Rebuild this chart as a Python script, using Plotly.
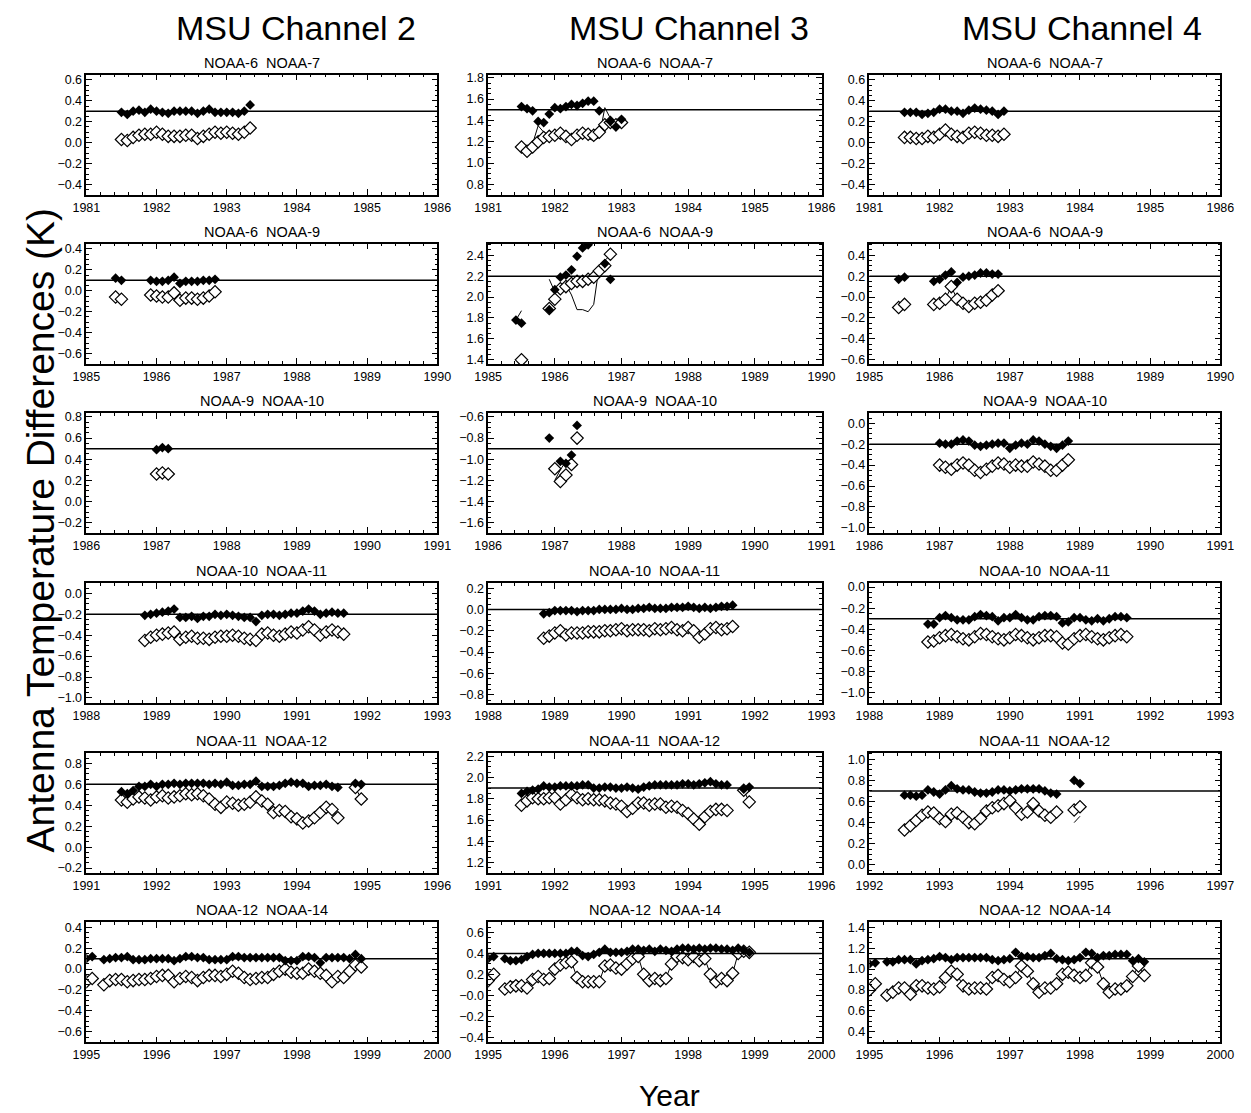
import plotly.graph_objects as go

# ---------------------------------------------------------------- data
column_titles = ["MSU Channel 2", "MSU Channel 3", "MSU Channel 4"]
pair_titles = ["NOAA-6  NOAA-7", "NOAA-6  NOAA-9", "NOAA-9  NOAA-10",
               "NOAA-10  NOAA-11", "NOAA-11  NOAA-12", "NOAA-12  NOAA-14"]

axis_start_years = [[1981, 1981, 1981], [1985, 1985, 1985], [1986, 1986, 1986],
                    [1988, 1988, 1988], [1991, 1991, 1992], [1995, 1995, 1995]]
ref_levels = [[0.3, 1.5, 0.3], [0.1, 2.2, 0.2], [0.5, -0.9, -0.2],
              [-0.2, 0.0, -0.3], [0.6, 1.9, 0.7], [0.1, 0.4, 1.1]]
y_ranges = [[[-0.5, 0.65], [0.7, 1.83], [-0.5, 0.65]],
            [[-0.7, 0.45], [1.36, 2.51], [-0.64, 0.51]],
            [[-0.3, 0.84], [-1.7, -0.56], [-1.05, 0.1]],
            [[-1.05, 0.1], [-0.88, 0.25], [-1.1, 0.04]],
            [[-0.25, 0.9], [1.1, 2.23], [-0.08, 1.06]],
            [[-0.7, 0.45], [-0.45, 0.7], [0.3, 1.45]]]
M = "\u2212"
ytick_labels = [
    [["0.6", "0.4", "0.2", "0.0", M+"0.2", M+"0.4"], ["1.8", "1.6", "1.4", "1.2", "1.0", "0.8"],
     ["0.6", "0.4", "0.2", "0.0", M+"0.2", M+"0.4"]],
    [["0.4", "0.2", "0.0", M+"0.2", M+"0.4", M+"0.6"], ["2.4", "2.2", "2.0", "1.8", "1.6", "1.4"],
     ["0.4", "0.2", M+"0.0", M+"0.2", M+"0.4", M+"0.6"]],
    [["0.8", "0.6", "0.4", "0.2", "0.0", M+"0.2"], [M+"0.6", M+"0.8", M+"1.0", M+"1.2", M+"1.4", M+"1.6"],
     ["0.0", M+"0.2", M+"0.4", M+"0.6", M+"0.8", M+"1.0"]],
    [["0.0", M+"0.2", M+"0.4", M+"0.6", M+"0.8", M+"1.0"], ["0.2", "0.0", M+"0.2", M+"0.4", M+"0.6", M+"0.8"],
     ["0.0", M+"0.2", M+"0.4", M+"0.6", M+"0.8", M+"1.0"]],
    [["0.8", "0.6", "0.4", "0.2", "0.0", M+"0.2"], ["2.2", "2.0", "1.8", "1.6", "1.4", "1.2"],
     ["1.0", "0.8", "0.6", "0.4", "0.2", "0.0"]],
    [["0.4", "0.2", "0.0", M+"0.2", M+"0.4", M+"0.6"], ["0.6", "0.4", "0.2", M+"0.0", M+"0.2", M+"0.4"],
     ["1.4", "1.2", "1.0", "0.8", "0.6", "0.4"]],
]

# decimal year of the first monthly sample of each panel
first_month = [[1981.5, 1981.5, 1981.5],
               [1985.4167, 1985.4167, 1985.4167],
               [1987.0, 1986.9167, 1987.0],
               [1988.8333, 1988.8333, 1988.8333],
               [1991.5, 1991.5, 1992.5],
               [1995.0, 1995.0, 1995.0]]

# ---- row 1 : NOAA-6 / NOAA-7
fill_r1c1 = [0.29, 0.27, 0.30, 0.31, 0.29, 0.32, 0.30, 0.29, 0.28, 0.30, 0.30, 0.30,
             0.30, 0.28, 0.30, 0.32, 0.29, 0.29, 0.29, 0.29, 0.28, 0.30, 0.36]
open_r1c1 = [0.03, 0.02, 0.05, 0.07, 0.08, 0.08, 0.10, 0.08, 0.06, 0.06, 0.06, 0.07,
             0.07, 0.04, 0.06, 0.08, 0.10, 0.09, 0.10, 0.09, 0.08, 0.10, 0.14]
line_r1c1 = open_r1c1

fill_r1c2 = [1.53, 1.51, 1.49, 1.39, 1.38, 1.46, 1.52, 1.51, 1.53, 1.55, 1.54, 1.56,
             1.58, 1.58, 1.49, None, 1.39, 1.34, 1.41]
open_r1c2 = [1.15, 1.11, 1.15, 1.20, 1.24, 1.25, 1.26, 1.28, 1.25, 1.22, 1.26, 1.28,
             1.27, 1.26, 1.29, 1.36, 1.38, 1.36, 1.38]
line_r1c2 = [1.14, 1.10, 1.18, 1.35, 1.29, 1.26, 1.25, 1.24, 1.21, 1.20, 1.24, 1.26,
             1.23, 1.21, 1.24, 1.52, 1.42, 1.34, 1.38]

fill_r1c3 = [0.29, 0.29, 0.29, 0.27, 0.28, 0.29, 0.32, 0.32, 0.30, 0.30, 0.28, 0.31,
             0.33, 0.32, 0.31, 0.30, 0.27, 0.30]
open_r1c3 = [0.05, 0.05, 0.04, 0.04, 0.06, 0.05, 0.08, 0.12, 0.08, 0.06, 0.05, 0.09,
             0.10, 0.09, 0.07, 0.07, 0.06, 0.08]
line_r1c3 = open_r1c3

# ---- row 2 : NOAA-6 / NOAA-9
fill_r2c1 = [0.12, 0.10, None, None, None, None, 0.10, 0.09, 0.09, 0.10, 0.13, 0.07,
             0.09, 0.09, 0.09, 0.10, 0.10, 0.11]
open_r2c1 = [-0.06, -0.08, None, None, None, None, -0.04, -0.05, -0.06, -0.06, -0.02,
             -0.09, -0.07, -0.07, -0.08, -0.07, -0.05, -0.01]
line_r2c1 = open_r2c1

fill_r2c2 = [1.78, 1.75, None, None, None, None, 1.88, 2.07, 2.19, 2.21, 2.26, 2.39,
             2.47, 2.50, None, None, 2.32, 2.17]
open_r2c2 = [None, 1.40, None, None, None, None, 1.89, 1.98, 2.08, 2.10, 2.13, 2.15,
             2.15, 2.17, 2.19, 2.25, 2.30, 2.41]
line_r2c2 = [1.78, 1.87, None, None, None, None, 2.17, 2.05, 2.10, 2.12, 2.02, 1.88,
             1.88, 1.86, 1.93, 2.30, 2.35, 2.40]

fill_r2c3 = [0.17, 0.19, None, None, None, None, 0.15, 0.17, 0.21, 0.24, 0.14, 0.19,
             0.20, 0.21, 0.23, 0.23, 0.22, 0.22]
open_r2c3 = [-0.10, -0.07, None, None, None, None, -0.07, -0.06, -0.02, 0.10, -0.02,
             -0.06, -0.09, -0.06, -0.05, -0.03, 0.02, 0.06]
line_r2c3 = open_r2c3

# ---- row 3 : NOAA-9 / NOAA-10
fill_r3c1 = [0.49, 0.51, 0.50]
open_r3c1 = [0.26, 0.27, 0.26]
line_r3c1 = open_r3c1

fill_r3c2 = [-0.80, None, -1.02, -1.04, -0.96, -0.68]
open_r3c2 = [None, -1.09, -1.21, -1.15, -1.05, -0.80]
line_r3c2 = [None, -1.20, -1.10, -1.02, -1.00, None]

fill_r3c3 = [-0.19, -0.20, -0.20, -0.17, -0.16, -0.17, -0.21, -0.22, -0.21, -0.20, -0.19,
             -0.19, -0.24, -0.21, -0.19, -0.20, -0.16, -0.17, -0.20, -0.22, -0.24, -0.21, -0.17]
open_r3c3 = [-0.40, -0.42, -0.44, -0.40, -0.38, -0.40, -0.45, -0.47, -0.44, -0.41, -0.38,
             -0.39, -0.42, -0.40, -0.41, -0.41, -0.37, -0.39, -0.41, -0.45, -0.45, -0.40, -0.35]
line_r3c3 = open_r3c3

# ---- row 4 : NOAA-10 / NOAA-11
fill_r4c1 = [-0.21, -0.20, -0.19, -0.18, -0.17, -0.15, -0.23, -0.23, -0.22, -0.24,
             -0.22, -0.22, -0.20, -0.21, -0.20, -0.21, -0.22, -0.23, -0.23, -0.27,
             -0.21, -0.20, -0.20, -0.21, -0.20, -0.19, -0.19, -0.17, -0.15, -0.17,
             -0.20, -0.19, -0.18, -0.19, -0.19]
open_r4c1 = [-0.45, -0.42, -0.40, -0.39, -0.38, -0.37, -0.44, -0.42, -0.41, -0.43,
             -0.43, -0.44, -0.42, -0.41, -0.41, -0.40, -0.41, -0.43, -0.44, -0.45,
             -0.39, -0.38, -0.40, -0.41, -0.39, -0.37, -0.38, -0.35, -0.32, -0.35,
             -0.40, -0.37, -0.35, -0.37, -0.39]
line_r4c1 = open_r4c1

fill_r4c2 = [-0.04, -0.03, -0.01, -0.01, -0.01, -0.01, -0.02, -0.01, -0.01, -0.01,
             0.00, 0.00, 0.00, 0.00, 0.01, 0.00, 0.00, 0.01, 0.01, 0.02,
             0.01, 0.01, 0.01, 0.02, 0.02, 0.02, 0.03, 0.02, 0.01, 0.02,
             0.01, 0.02, 0.03, 0.03, 0.04]
open_r4c2 = [-0.27, -0.25, -0.22, -0.20, -0.24, -0.22, -0.22, -0.22, -0.21, -0.21,
             -0.21, -0.20, -0.20, -0.19, -0.18, -0.20, -0.19, -0.19, -0.19, -0.20,
             -0.18, -0.19, -0.18, -0.17, -0.19, -0.20, -0.17, -0.20, -0.26, -0.23,
             -0.18, -0.17, -0.19, -0.18, -0.16]
line_r4c2 = open_r4c2

fill_r4c3 = [-0.35, -0.35, -0.29, -0.27, -0.29, -0.31, -0.31, -0.31, -0.28, -0.26,
             -0.27, -0.28, -0.32, -0.29, -0.29, -0.26, -0.29, -0.31, -0.31, -0.28,
             -0.27, -0.27, -0.28, -0.34, -0.33, -0.29, -0.29, -0.31, -0.32, -0.30,
             -0.32, -0.30, -0.28, -0.28, -0.29]
open_r4c3 = [-0.52, -0.51, -0.48, -0.46, -0.45, -0.47, -0.49, -0.50, -0.47, -0.44,
             -0.45, -0.47, -0.49, -0.50, -0.48, -0.45, -0.46, -0.48, -0.50, -0.48,
             -0.46, -0.46, -0.47, -0.53, -0.54, -0.49, -0.46, -0.45, -0.47, -0.49,
             -0.50, -0.48, -0.46, -0.45, -0.47]
line_r4c3 = open_r4c3

# ---- row 5 : NOAA-11 / NOAA-12
fill_r5c1 = [0.53, 0.51, 0.54, 0.58, 0.58, 0.60, 0.58, 0.60, 0.60, 0.61,
             0.60, 0.61, 0.61, 0.61, 0.61, 0.60, 0.61, 0.60, 0.62, 0.59,
             0.59, 0.60, 0.60, 0.63, 0.58, 0.58, 0.58, 0.59, 0.61, 0.62,
             0.61, 0.61, 0.58, 0.59, 0.59, 0.60, 0.58, 0.57,
             None, None, 0.61, 0.60]
open_r5c1 = [0.45, 0.43, 0.46, 0.48, 0.47, 0.45, 0.48, 0.49, 0.47, 0.48, 0.49, 0.51,
             0.50, 0.51, 0.49, 0.46, 0.41, 0.38,
             0.43, 0.42, 0.40, 0.41, 0.43, 0.48,
             0.44, 0.41, 0.33, 0.35, 0.34, 0.29,
             0.27, 0.23, 0.25, 0.28, 0.33, 0.38, 0.36, 0.28,
             None, None, 0.57, 0.46]
line_r5c1 = open_r5c1

fill_r5c2 = [1.85, 1.87, 1.88, 1.89, 1.92, 1.91, 1.91, 1.92, 1.92, 1.92,
             1.92, 1.93, 1.93, 1.90, 1.90, 1.91, 1.91, 1.90, 1.90, 1.91,
             1.90, 1.89, 1.91, 1.92, 1.93, 1.93, 1.93, 1.93, 1.93, 1.94,
             1.94, 1.93, 1.94, 1.95, 1.96, 1.94, 1.93, 1.93,
             None, None, 1.89, 1.91]
open_r5c2 = [1.74, 1.78, 1.81, 1.80, 1.80, 1.81, 1.81, 1.75, 1.79, 1.84,
             1.81, 1.79, 1.80, 1.79, 1.79, 1.78, 1.76, 1.75, 1.73, 1.68,
             1.71, 1.76, 1.76, 1.74, 1.75, 1.75, 1.72, 1.73, 1.72, 1.69,
             1.66, 1.61, 1.56, 1.63, 1.68, 1.70, 1.70, 1.69,
             None, None, 1.88, 1.77]
line_r5c2 = open_r5c2

fill_r5c3 = [0.66, 0.66, 0.65, 0.66, 0.71, 0.69, 0.67, 0.71, 0.75, 0.72,
             0.71, 0.71, 0.69, 0.68, 0.68, 0.69, 0.71, 0.71, 0.70, 0.71,
             0.72, 0.72, 0.72, 0.72, 0.70, 0.68, 0.67,
             None, None, 0.80, 0.77]
open_r5c3 = [0.33, 0.37, 0.42, 0.47, 0.50, 0.49, 0.44, 0.41, 0.48, 0.49,
             0.45, 0.40, 0.39, 0.44, 0.51, 0.54, 0.56, 0.58, 0.61, 0.54,
             0.48, 0.50, 0.58, 0.51, 0.47, 0.45, 0.50,
             None, None, 0.52, 0.55]
line_r5c3 = [0.33, 0.37, 0.42, 0.47, 0.50, 0.49, 0.44, 0.41, 0.48, 0.49,
             0.45, 0.40, 0.39, 0.44, 0.51, 0.54, 0.56, 0.58, 0.61, 0.54,
             0.48, 0.50, 0.58, 0.51, 0.47, 0.45, 0.50,
             None, None, 0.40, 0.46]

# ---- row 6 : NOAA-12 / NOAA-14
fill_r6c1 = [0.10, 0.12, None,
             0.09, 0.10, 0.11, 0.11, 0.12, 0.09, 0.09, 0.09, 0.10, 0.10,
             0.10, 0.10, 0.08, 0.10, 0.12, 0.12, 0.11, 0.11, 0.09, 0.09,
             0.09, 0.09, 0.12, 0.12, 0.11, 0.11, 0.11, 0.11, 0.11, 0.11,
             0.11, 0.08, 0.08, 0.08, 0.12, 0.12, 0.11, 0.06, 0.11, 0.11,
             0.11, 0.11, 0.10, 0.14, 0.10]
open_r6c1 = [-0.12, -0.09, None,
             -0.15, -0.11, -0.10, -0.10, -0.12, -0.11, -0.10, -0.10, -0.09, -0.07,
             -0.06, -0.06, -0.12, -0.09, -0.07, -0.08, -0.11, -0.08, -0.06, -0.06,
             -0.07, -0.05, -0.02, -0.04, -0.08, -0.10, -0.09, -0.08, -0.08, -0.05,
             -0.02, 0.00, -0.03, -0.04, -0.04, 0.00, -0.02, -0.04, -0.06, -0.12,
             -0.07, -0.08, -0.02, 0.04, 0.02]
line_r6c1 = open_r6c1

fill_r6c2 = [0.35, 0.37, None,
             0.35, 0.33, 0.33, 0.34, 0.37, 0.39, 0.40, 0.40, 0.40, 0.40,
             0.40, 0.40, 0.42, 0.42, 0.38, 0.37, 0.39, 0.41, 0.44, 0.41,
             0.41, 0.41, 0.42, 0.44, 0.44, 0.43, 0.44, 0.42, 0.44, 0.43,
             0.42, 0.44, 0.45, 0.45, 0.44, 0.45, 0.44, 0.45, 0.45, 0.44,
             0.44, 0.43, 0.45, 0.43, 0.41]
open_r6c2 = [0.14, 0.20, None,
             0.06, 0.08, 0.09, 0.09, 0.07, 0.15, 0.18, 0.15, 0.16, 0.25,
             0.29, 0.31, 0.32, 0.17, 0.13, 0.13, 0.13, 0.13, 0.28, 0.29,
             0.26, 0.25, 0.30, 0.35, 0.37, 0.20, 0.14, 0.16, 0.14, 0.16,
             0.30, 0.37, 0.36, 0.34, 0.37, 0.33, 0.35, 0.20, 0.13, 0.16,
             0.14, 0.21, 0.40, 0.42, 0.41]
line_r6c2 = [0.14, 0.20, None,
             0.07, 0.12, 0.14, 0.12, 0.08, 0.15, 0.18, 0.15, 0.16, 0.25,
             0.29, 0.31, 0.32, 0.17, 0.13, 0.13, 0.13, 0.13, 0.28, 0.29,
             0.26, 0.25, 0.30, 0.35, 0.37, 0.20, 0.14, 0.16, 0.14, 0.16,
             0.30, 0.37, 0.36, 0.34, 0.37, 0.33, 0.35, 0.20, 0.13, 0.16,
             0.14, 0.21, 0.40, 0.42, 0.41]

fill_r6c3 = [1.05, 1.06, None,
             1.07, 1.07, 1.09, 1.09, 1.09, 1.05, 1.08, 1.09, 1.10, 1.12,
             1.11, 1.09, 1.11, 1.11, 1.11, 1.11, 1.11, 1.11, 1.09, 1.08,
             1.09, 1.10, 1.16, 1.12, 1.12, 1.11, 1.11, 1.13, 1.15, 1.10,
             1.09, 1.08, 1.09, 1.11, 1.16, 1.15, 1.11, 1.13, 1.13, 1.14,
             1.14, 1.14, 1.08, 1.10, 1.07]
open_r6c3 = [0.80, 0.86, None,
             0.75, 0.78, 0.82, 0.82, 0.76, 0.84, 0.84, 0.82, 0.81, 0.83,
             0.92, 0.98, 0.95, 0.84, 0.81, 0.82, 0.82, 0.81, 0.92, 0.94,
             0.90, 0.88, 0.92, 1.03, 0.98, 0.86, 0.78, 0.82, 0.82, 0.86,
             0.95, 0.97, 0.94, 0.92, 0.94, 1.06, 1.02, 0.86, 0.78, 0.81,
             0.81, 0.84, 0.93, 1.03, 0.94]
line_r6c3 = open_r6c3

fills = [[fill_r1c1, fill_r1c2, fill_r1c3], [fill_r2c1, fill_r2c2, fill_r2c3],
         [fill_r3c1, fill_r3c2, fill_r3c3], [fill_r4c1, fill_r4c2, fill_r4c3],
         [fill_r5c1, fill_r5c2, fill_r5c3], [fill_r6c1, fill_r6c2, fill_r6c3]]
opens = [[open_r1c1, open_r1c2, open_r1c3], [open_r2c1, open_r2c2, open_r2c3],
         [open_r3c1, open_r3c2, open_r3c3], [open_r4c1, open_r4c2, open_r4c3],
         [open_r5c1, open_r5c2, open_r5c3], [open_r6c1, open_r6c2, open_r6c3]]
lines = [[line_r1c1, line_r1c2, line_r1c3], [line_r2c1, line_r2c2, line_r2c3],
         [line_r3c1, line_r3c2, line_r3c3], [line_r4c1, line_r4c2, line_r4c3],
         [line_r5c1, line_r5c2, line_r5c3], [line_r6c1, line_r6c2, line_r6c3]]

# ---------------------------------------------------------------- layout
W, H = 1251, 1113
COL_X = [(74, 433), (485, 826), (875, 1234)]
ROW_TOP = [72, 242, 412, 583, 754, 924]
ROW_H = 121
FONT = "Liberation Sans, Arial, Helvetica, sans-serif"

fig = go.Figure()
layout = dict(width=W, height=H, margin=dict(l=0, r=0, t=0, b=0),
              paper_bgcolor="white", plot_bgcolor="white", showlegend=False,
              font=dict(family=FONT, color="black"))
annotations = []
shapes = []

k = 0
for r in range(6):
    for c in range(3):
        k += 1
        xa = "x" if k == 1 else f"x{k}"
        ya = "y" if k == 1 else f"y{k}"
        t0 = first_month[r][c]
        n = len(fills[r][c])
        xs = [t0 + i / 12.0 for i in range(n)]

        fig.add_trace(go.Scatter(x=xs, y=lines[r][c], mode="lines",
                                 line=dict(color="black", width=1),
                                 xaxis=xa, yaxis=ya, hoverinfo="skip"))
        fig.add_trace(go.Scatter(x=xs, y=opens[r][c], mode="markers",
                                 marker=dict(symbol="diamond", size=9.5, color="white",
                                             line=dict(color="black", width=1.2)),
                                 xaxis=xa, yaxis=ya))
        fig.add_trace(go.Scatter(x=xs, y=fills[r][c], mode="markers",
                                 marker=dict(symbol="diamond", size=7.5, color="black",
                                             line=dict(width=0)),
                                 xaxis=xa, yaxis=ya))

        x0, x1 = COL_X[c]
        top = ROW_TOP[r]
        y0 = 1 - (top + ROW_H) / H
        y1 = 1 - top / H
        ys = axis_start_years[r][c]
        years = list(range(ys, ys + 6))
        labels = ytick_labels[r][c]
        tvals = [float(s.replace(M, "-")) for s in labels]

        layout["xaxis" if k == 1 else f"xaxis{k}"] = dict(
            domain=[x0 / W, x1 / W], anchor=ya, range=[ys, ys + 5],
            tickvals=years, ticktext=[str(y) for y in years],
            ticks="inside", ticklen=6, tickwidth=1, tickcolor="black",
            showline=True, linecolor="black", linewidth=1.5, mirror="allticks",
            showgrid=False, zeroline=False,
            minor=dict(ticks="inside", ticklen=3, tickcolor="black", dtick=0.2),
            tickfont=dict(size=12.5, family=FONT, color="black"))
        layout["yaxis" if k == 1 else f"yaxis{k}"] = dict(
            domain=[y0, y1], anchor=xa, range=y_ranges[r][c],
            tickvals=tvals, ticktext=labels,
            ticks="inside", ticklen=6, tickwidth=1, tickcolor="black",
            showline=True, linecolor="black", linewidth=1.5, mirror="allticks",
            showgrid=False, zeroline=False,
            minor=dict(ticks="inside", ticklen=3, tickcolor="black", dtick=0.05),
            tickfont=dict(size=12.5, family=FONT, color="black"))

        shapes.append(dict(type="line", xref=f"{xa} domain", yref=ya,
                           x0=0, x1=1, y0=ref_levels[r][c], y1=ref_levels[r][c],
                           line=dict(color="black", width=1.5)))
        annotations.append(dict(text=pair_titles[r].replace("  ", "\u00a0 "),
                                xref="paper", yref="paper",
                                x=(x0 + x1) / 2 / W, y=1 - (top - 12) / H,
                                xanchor="center", yanchor="middle", showarrow=False,
                                font=dict(size=14.5, family=FONT, color="black")))

col_title_x = [288, 690, 1092]
for c in range(3):
    annotations.append(dict(text=column_titles[c], xref="paper", yref="paper",
                            x=col_title_x[c] / W, y=1 - 25 / H, xanchor="center",
                            yanchor="middle", showarrow=False,
                            font=dict(size=34, family=FONT, color="black")))
annotations.append(dict(text="Antenna Temperature Differences (K)", xref="paper",
                        yref="paper", x=27 / W, y=1 - 530 / H, textangle=-90,
                        xanchor="center", yanchor="middle", showarrow=False,
                        font=dict(size=39, family=FONT, color="black")))
annotations.append(dict(text="Year", xref="paper", yref="paper", x=670 / W,
                        y=1 - 1098 / H, xanchor="center", yanchor="middle",
                        showarrow=False, font=dict(size=30, family=FONT, color="black")))

layout["annotations"] = annotations
layout["shapes"] = shapes
fig.update_layout(**layout)
fig.write_html("out.html")
